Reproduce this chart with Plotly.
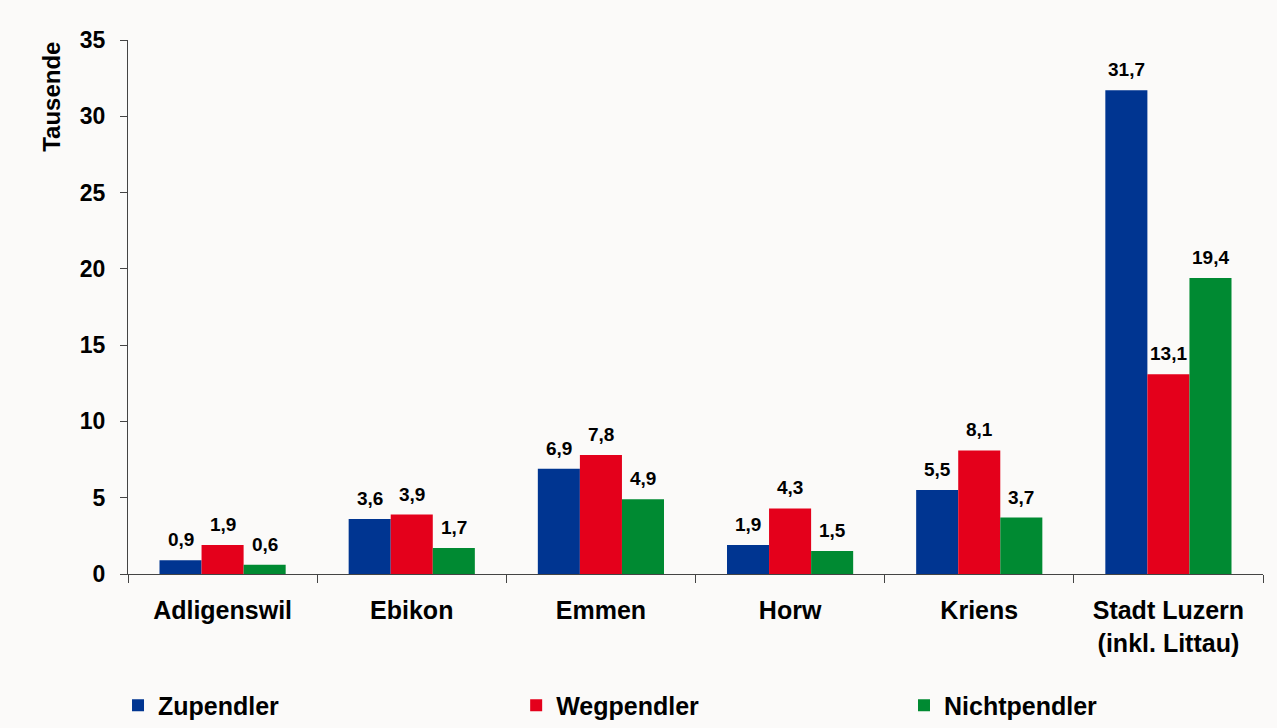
import plotly.graph_objects as go

# --- Daten ---
gemeinden = ["Adligenswil", "Ebikon", "Emmen", "Horw", "Kriens", "Stadt Luzern<br>(inkl. Littau)"]
zupendler = [0.9, 3.6, 6.9, 1.9, 5.5, 31.7]
wegpendler = [1.9, 3.9, 7.8, 4.3, 8.1, 13.1]
nichtpendler = [0.6, 1.7, 4.9, 1.5, 3.7, 19.4]

serien = [
    ("Zupendler", zupendler, "#003591"),
    ("Wegpendler", wegpendler, "#E4001B"),
    ("Nichtpendler", nichtpendler, "#008A32"),
]

FONT = "Liberation Sans, Arial, sans-serif"
BAR_PX = 42  # ungefähre Balkenbreite in Pixel, für die Beschriftungen
LEGEND_X = [-0.0088, 0.342, 0.6837]  # je eine Legende pro Serie

fig = go.Figure()
annotations = []
for i, (name, werte, farbe) in enumerate(serien):
    fig.add_trace(go.Bar(
        x=gemeinden,
        y=werte,
        name=name,
        marker=dict(color=farbe, line=dict(width=0)),
        legend="legend" if i == 0 else f"legend{i + 1}",
    ))
    # Wertbeschriftungen etwas über den Balken
    for g, v in zip(gemeinden, werte):
        annotations.append(dict(
            x=g, y=v, xref="x", yref="y",
            text=f"{v:.1f}".replace(".", ","),
            showarrow=False, xanchor="center", yanchor="bottom",
            xshift=(i - 1) * BAR_PX, yshift=8,
            font=dict(family=FONT, size=19, color="black", weight="bold"),
        ))

annotations.append(dict(
    text="Tausende", textangle=-90,
    xref="paper", yref="paper", x=-0.068, y=1.0,
    xanchor="center", yanchor="top", showarrow=False,
    font=dict(family=FONT, size=24, color="black", weight="bold"),
))

legend_style = dict(
    orientation="h", yref="container", y=0.031, xanchor="left", yanchor="middle",
    font=dict(family=FONT, size=25, color="black", weight="bold"),
    itemwidth=30, bgcolor="rgba(0,0,0,0)",
)

fig.update_layout(
    width=1277, height=728,
    barmode="group",
    bargap=0.333, bargroupgap=0,
    paper_bgcolor="#FBFAF9",
    plot_bgcolor="#FBFAF9",
    font=dict(family=FONT, size=20, color="black"),
    margin=dict(l=128, r=14, t=40, b=154),
    showlegend=True,
    legend=dict(x=LEGEND_X[0], **legend_style),
    legend2=dict(x=LEGEND_X[1], **legend_style),
    legend3=dict(x=LEGEND_X[2], **legend_style),
    xaxis=dict(
        showline=True, linecolor="#444444", linewidth=1,
        ticks="outside", tickson="boundaries", ticklen=8, tickcolor="#444444",
        ticklabelstandoff=14,
        tickfont=dict(family=FONT, size=25, color="black", weight="bold"),
        showgrid=False, automargin=False,
    ),
    yaxis=dict(
        range=[0, 35], dtick=5,
        showline=True, linecolor="#444444", linewidth=1,
        ticks="outside", ticklen=7, tickcolor="#444444",
        ticklabelstandoff=10,
        tickfont=dict(family=FONT, size=23, color="black", weight="bold"),
        showgrid=False, zeroline=False, automargin=False,
    ),
    annotations=annotations,
)

fig.write_html("out.html", config={"displayModeBar": False},
               post_script="document.body.style.margin='0px';")
